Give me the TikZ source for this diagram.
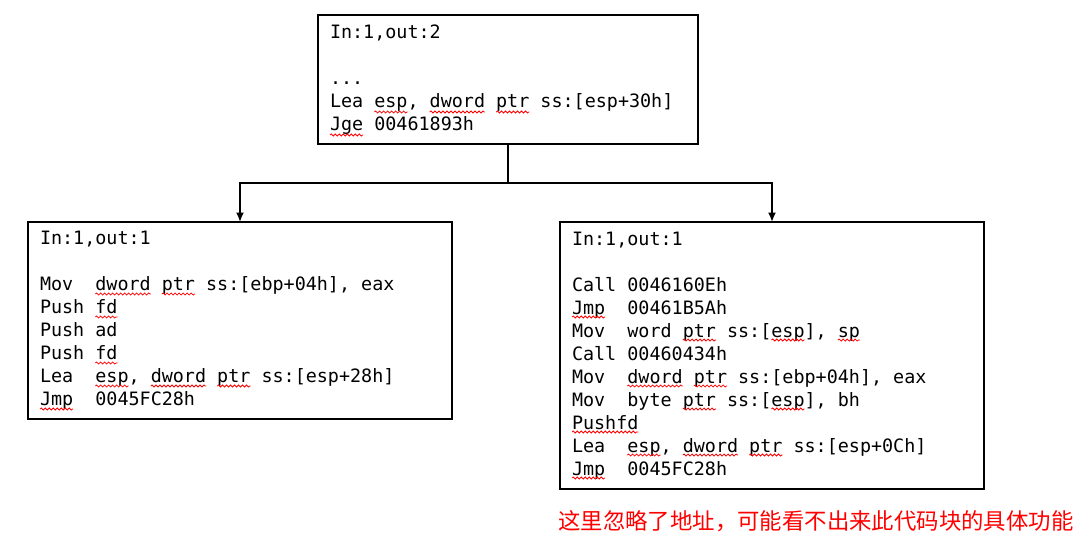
\documentclass[tikz,border=0pt]{standalone}
\usepackage{fontspec}
\usetikzlibrary{arrows.meta,decorations.pathmorphing}
\newfontfamily\codefont{DejaVu Sans Mono}
\newfontfamily\cjk{Noto Sans CJK SC}
\newcommand\codesize{\codefont\fontsize{13.8pt}{17.25pt}\selectfont}

\begin{document}
\begin{tikzpicture}[x=0.75pt,y=-0.75pt,
    block/.style={draw, line width=1.5pt, anchor=north west, align=left,
      inner xsep=9pt, inner ysep=0pt, outer sep=0pt, font=\codesize,
      execute at begin node={\spaceskip=8.31pt\xspaceskip=8.31pt}},
    link/.style={line width=1.5pt, -{Latex[length=7pt,width=6pt]}},
    squiggle/.style={red, line width=0.6pt, decorate,
      decoration={snake, amplitude=0.75pt, segment length=3pt}}]
	\useasboundingbox (0,0) rectangle (1084,547);

	% basic blocks
	\node[block, text width=267pt, minimum height=96.75pt] (top) at (318,15)
		{In:1,out:2\\ \mbox{}\\ ...\\ Lea esp, dword ptr ss:[esp+30h]\\ Jge 00461893h};
	\node[block, text width=300pt, minimum height=147.75pt] (left) at (28,222)
		{In:1,out:1\\ \mbox{}\\ Mov~ dword ptr ss:[ebp+04h], eax\\ Push fd\\ Push ad\\ Push fd\\
		 Lea~ esp, dword ptr ss:[esp+28h]\\ Jmp~ 0045FC28h};
	\node[block, text width=300pt, minimum height=200.25pt] (right) at (560,222)
		{In:1,out:1\\ \mbox{}\\ Call 0046160Eh\\ Jmp~ 00461B5Ah\\ Mov~ word ptr ss:[esp], sp\\
		 Call 00460434h\\ Mov~ dword ptr ss:[ebp+04h], eax\\ Mov~ byte ptr ss:[esp], bh\\
		 Pushfd\\ Lea~ esp, dword ptr ss:[esp+0Ch]\\ Jmp~ 0045FC28h};

	% edges
	\coordinate (fork) at (508,183);
	\draw[line width=1.5pt] (top.south) -- (fork);
	\draw[link] (fork) -| (left.north);
	\draw[link] (fork) -| (right.north);

	\node[anchor=west, inner sep=0pt, text=red, font=\cjk\fontsize{16.8pt}{19pt}\selectfont] (note) at (558,521)
		{这里忽略了地址，可能看不出来此代码块的具体功能};

	% spell-check marks: text x / first line y / line / column / length
	\foreach \x/\y/\l/\c/\n in {330/34/3/4/3, 330/34/3/9/5, 330/34/3/15/3, 330/34/4/0/3,
		40/239/2/5/5, 40/239/2/11/3, 40/239/3/5/2, 40/239/5/5/2, 40/239/6/5/3, 40/239/6/10/5,
		40/239/6/16/3, 40/239/7/0/3,
		572/239/3/0/3, 572/239/4/10/3, 572/239/4/18/3, 572/239/4/24/2, 572/239/6/5/5,
		572/239/6/11/3, 572/239/7/10/3, 572/239/7/18/3, 572/239/8/0/6, 572/239/9/5/3,
		572/239/9/10/5, 572/239/9/16/3, 572/239/10/0/3}
		\draw[squiggle] ({\x+\c*11.08},{\y+23*\l+9}) -- ++({\n*11.08},0);
\end{tikzpicture}
\end{document}
